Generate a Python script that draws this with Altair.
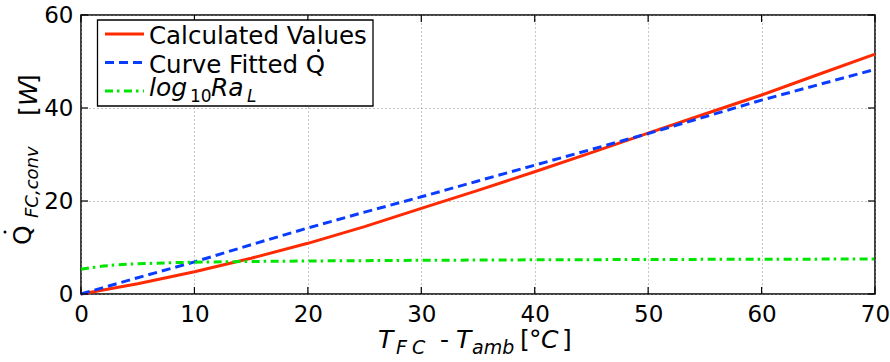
import altair as alt
import pandas as pd

# Temperature difference T_FC - T_amb [°C]
temp_diff = [0, 5, 10, 15, 20, 25, 30, 35, 40, 45, 50, 55, 60, 65, 70]
# Convective heat loss [W]
q_calculated = [0.0, 2.2, 4.8, 7.7, 10.9, 14.5, 18.4, 22.3, 26.3, 30.4, 34.6, 38.7, 42.8, 47.2, 51.6]
q_fitted = [0.0, 3.5, 6.9, 10.6, 14.2, 17.6, 20.9, 24.3, 27.7, 31.1, 34.5, 38.1, 41.7, 45.0, 48.3]
# log10 of the Rayleigh number
ra_temp_diff = [0, 1, 2, 3, 4, 5, 7.5, 10, 15, 20, 30, 40, 50, 60, 70]
log_ra = [5.3, 5.7, 6.0, 6.25, 6.4, 6.5, 6.7, 6.85, 7.0, 7.1, 7.25, 7.35, 7.42, 7.48, 7.52]

x_ticks = [0, 10, 20, 30, 40, 50, 60, 70]
y_ticks = [0, 20, 40, 60]

FONT = "DejaVu Sans"
LEFT, TOP = 81, 15
W, H = 794, 279
RED, BLUE, GREEN = "#ff2a00", "#0a3cff", "#00e600"

xs = alt.Scale(domain=[0, 70], nice=False)
ys = alt.Scale(domain=[0, 60], nice=False)

axis_style = dict(
    title=None, ticks=False, domain=False, grid=True,
    gridDash=[1, 3], gridColor="#8a8a8a", gridWidth=1,
    labelFont=FONT, labelFontSize=23, labelColor="black",
    labelFlush=False, labelOverlap=False, labelBound=False,
)

curves = pd.DataFrame({"dt": temp_diff, "calc": q_calculated, "fit": q_fitted})
ra = pd.DataFrame({"dt": ra_temp_diff, "logra": log_ra})

red = alt.Chart(curves).mark_line(color=RED, strokeWidth=3).encode(
    x=alt.X("dt:Q", scale=xs, axis=alt.Axis(values=x_ticks, labelPadding=9, **axis_style)),
    y=alt.Y("calc:Q", scale=ys, axis=alt.Axis(values=y_ticks, labelPadding=8, **axis_style)),
)
blue = alt.Chart(curves).mark_line(color=BLUE, strokeWidth=3, strokeDash=[9, 5]).encode(
    x=alt.X("dt:Q", scale=xs), y=alt.Y("fit:Q", scale=ys)
)
green = alt.Chart(ra).mark_line(color=GREEN, strokeWidth=3, strokeDash=[8, 4, 2.5, 4.5]).encode(
    x=alt.X("dt:Q", scale=xs), y=alt.Y("logra:Q", scale=ys)
)

# Inward-pointing ticks on all four sides of the box
xt = pd.DataFrame({"t": x_ticks})
yt = pd.DataFrame({"t": y_ticks})
TL = 7
tick_bottom = alt.Chart(xt).mark_rule(color="black", strokeWidth=1.2).encode(
    x=alt.X("t:Q", scale=xs), y=alt.value(H), y2=alt.value(H - TL))
tick_top = alt.Chart(xt).mark_rule(color="black", strokeWidth=1.2).encode(
    x=alt.X("t:Q", scale=xs), y=alt.value(0), y2=alt.value(TL))
tick_left = alt.Chart(yt).mark_rule(color="black", strokeWidth=1.2).encode(
    y=alt.Y("t:Q", scale=ys), x=alt.value(0), x2=alt.value(TL))
tick_right = alt.Chart(yt).mark_rule(color="black", strokeWidth=1.2).encode(
    y=alt.Y("t:Q", scale=ys), x=alt.value(W), x2=alt.value(W - TL))

one_row = alt.Data(values=[{}])


def label(text, px, py, size, italic=False, angle=0):
    """Piece of text placed by page pixel position (baseline-left anchor)."""
    return alt.Chart(one_row).mark_text(
        text=text, font=FONT, fontSize=size,
        fontStyle="italic" if italic else "normal",
        align="left", baseline="alphabetic", angle=angle, color="black",
    ).encode(x=alt.value(px - LEFT), y=alt.value(py - TOP))


def dot(px, py):
    """Time-derivative dot drawn over a Q."""
    return alt.Chart(one_row).mark_circle(size=9, color="black", opacity=1).encode(
        x=alt.value(px - LEFT), y=alt.value(py - TOP))


def sample(py, color, dash=None):
    kw = dict(color=color, strokeWidth=3)
    if dash:
        kw["strokeDash"] = dash
    return alt.Chart(one_row).mark_rule(**kw).encode(
        x=alt.value(105 - LEFT), x2=alt.value(144 - LEFT), y=alt.value(py - TOP))


legend_box = alt.Chart(one_row).mark_rect(
    fill="white", stroke="black", strokeWidth=1.3
).encode(
    x=alt.value(97.5 - LEFT), x2=alt.value(373 - LEFT),
    y=alt.value(20 - TOP), y2=alt.value(106 - TOP),
)

legend = [
    legend_box,
    sample(34, RED),
    sample(62.5, BLUE, [9, 5]),
    sample(91, GREEN, [8, 4, 2.5, 4.5]),
    label("Calculated Values", 149, 44, 24.5),
    label("Curve Fitted Q", 149, 73, 24.5),
    dot(318.5, 50.5),
    label("log", 149, 96, 25, italic=True),
    label("10", 190, 102, 17),
    label("Ra", 211, 96, 25, italic=True),
    label("L", 247, 102, 17, italic=True),
]

# x-axis title: T_FC - T_amb [°C]
x_title = [
    label("T", 378, 348, 25, italic=True),
    label("F", 396, 354, 19, italic=True),
    label("C", 412, 354, 19, italic=True),
    label("-", 440, 348, 25),
    label("T", 456, 348, 25, italic=True),
    label("amb", 472, 354, 19, italic=True),
    label("[", 520, 348, 25),
    label("\u00b0", 529, 348, 25),
    label("C", 541, 348, 25, italic=True),
    label("]", 562, 348, 25),
]

# y-axis title: Q̇_FC,conv [W], rotated
y_title = [
    label("Q", 31, 245, 25, angle=270),
    dot(5, 232),
    label("FC,conv", 38, 218, 18, italic=True, angle=270),
    label("[", 37, 116, 25, angle=270),
    label("W", 37, 106, 25, italic=True, angle=270),
    label("]", 37, 84, 25, angle=270),
]

chart = alt.layer(
    red, blue, green,
    tick_bottom, tick_top, tick_left, tick_right,
    *legend, *x_title, *y_title,
).properties(
    width=W, height=H,
    padding={"left": LEFT, "top": TOP, "right": 890 - LEFT - W, "bottom": 362 - TOP - H},
    autosize=alt.AutoSizeParams(type="none"),
).configure_view(
    stroke="black", strokeWidth=1.5
)

chart.save("out.html", embed_options={"renderer": "svg", "actions": False})
